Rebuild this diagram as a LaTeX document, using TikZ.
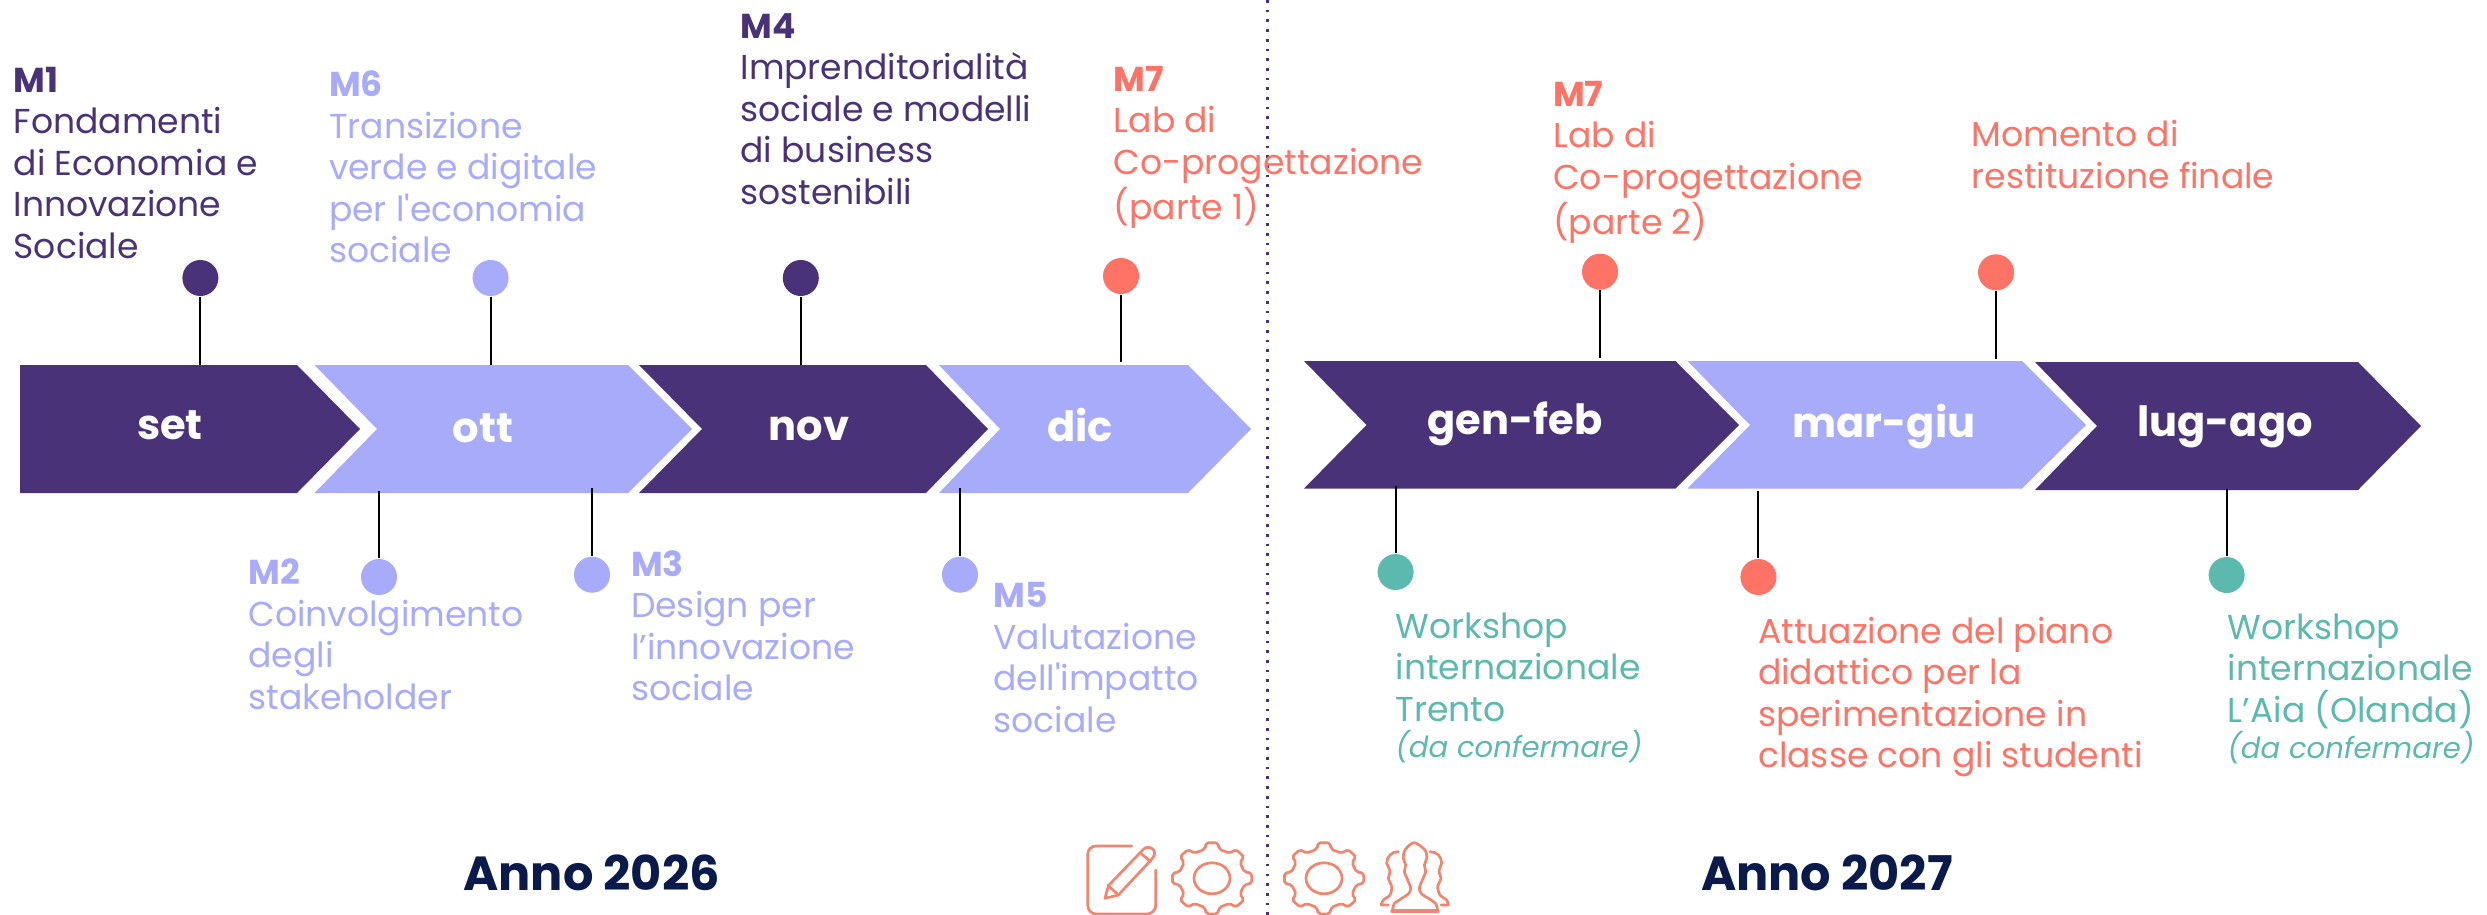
\documentclass[tikz,border=0pt]{standalone}
\usepackage{fontspec}
\setmainfont{Poppins}[Ligatures=TeXOff]
\definecolor{deeppurple}{HTML}{4A3278}
\definecolor{lavender}{HTML}{A8AAFA}
\definecolor{coral}{HTML}{FF7366}
\definecolor{teal2}{HTML}{5BB9AE}
\definecolor{salmon2}{HTML}{F08570}
\definecolor{navy2}{HTML}{0A1A4A}
\begin{document}
\begin{tikzpicture}[
    x=0.01cm, y=-0.01cm,
    dot/.style={circle, inner sep=0pt, minimum size=0.36cm},
    stem/.style={black, line width=0.02cm},
    note/.style={anchor=north west, inner sep=0pt, align=left, xshift=-0.01cm, yshift=0.015cm,
        font=\fontsize{9.83pt}{11.8pt}\selectfont},
    month/.style={anchor=base, inner sep=0pt, text=white,
        font=\fontsize{11.83pt}{13pt}\selectfont\bfseries},
    year/.style={anchor=base, inner sep=0pt, text=navy2,
        font=\fontsize{13.6pt}{15pt}\selectfont\bfseries},
    icon/.style={draw=salmon2, line width=0.027cm, line join=round, line cap=round},
    gearicon/.pic={
        \draw[icon, yscale=0.9, rounded corners=0.02cm] (-13:33) -- (-8:40) -- (8:40) -- (13:33)
            \foreach \a in {45,90,...,315} { -- (\a-13:33) -- (\a-8:40) -- (\a+8:40) -- (\a+13:33) } -- cycle;
        \draw[icon] (0,0) ellipse (18 and 15.5);
    }
]
    % Page size of the reference
    \useasboundingbox (0,0) rectangle (2487,915);

    % Divider between the two years
    \draw[deeppurple, line width=0.027cm, dash pattern=on 0.027cm off 0.07cm]
        (1267.7,0) -- (1267.7,915);

    % Bands of 2026
    \fill[deeppurple] (20,365) -- (297,365) -- (360,429) -- (297,493) -- (20,493) -- cycle;
    \fill[lavender] (314.5,365) -- (628,365) -- (692,429) -- (628,493) -- (314.5,493) -- (377,429) -- cycle;
    \fill[deeppurple] (639,365) -- (926,365) -- (988,429) -- (926,493) -- (639,493) -- (702,429) -- cycle;
    \fill[lavender] (939,365) -- (1188,365) -- (1251,429) -- (1188,493) -- (939,493) -- (1000,429) -- cycle;

    % Bands of 2027
    \fill[deeppurple] (1304,361) -- (1675.5,361) -- (1739,425) -- (1675.5,488.5) -- (1304,488.5) -- (1366.5,425) -- cycle;
    \fill[lavender] (1687.5,361) -- (2022,361) -- (2086,425) -- (2022,488.5) -- (1687.5,488.5) -- (1750,425) -- cycle;
    \fill[deeppurple] (2035,362) -- (2358,362) -- (2421,426) -- (2358,490) -- (2035,490) -- (2097,426) -- cycle;

    % Month names
    \node[month] (set) at (170,439) {set};
    \node[month] (ott) at (483,442) {ott};
    \node[month] (nov) at (809,440) {nov};
    \node[month] (dic) at (1080,441) {dic};
    \node[month] (genfeb) at (1515,434) {gen-feb};
    \node[month] (margiu) at (1884,437) {mar-giu};
    \node[month] (lugago) at (2225,436) {lug-ago};

    % Dots
    \node[dot, fill=deeppurple] (dotm1) at (200.4,278) {};
    \node[dot, fill=lavender] (dotm6) at (490.6,278) {};
    \node[dot, fill=deeppurple] (dotm4) at (800.8,278) {};
    \node[dot, fill=coral] (dotm7a) at (1121,276) {};
    \node[dot, fill=coral] (dotm7b) at (1600,271.7) {};
    \node[dot, fill=coral] (dotend) at (1996,272.3) {};
    \node[dot, fill=lavender] (dotm2) at (379,577) {};
    \node[dot, fill=lavender] (dotm3) at (592,574.7) {};
    \node[dot, fill=lavender] (dotm5) at (960,574.7) {};
    \node[dot, fill=teal2] (dottrento) at (1395.6,572) {};
    \node[dot, fill=coral] (dotplan) at (1758.4,577) {};
    \node[dot, fill=teal2] (dotaia) at (2226.6,575) {};

    % Ends of the stems on the bands
    \coordinate (endm1) at (200.4,365);
    \coordinate (endm6) at (490.6,365);
    \coordinate (endm4) at (800.8,365);
    \coordinate (endm7a) at (1121,362);
    \coordinate (endm7b) at (1600,358);
    \coordinate (endend) at (1996,359);
    \coordinate (endm2) at (379,490.7);
    \coordinate (endm3) at (592,488);
    \coordinate (endm5) at (960,488);
    \coordinate (endtrento) at (1395.6,486);
    \coordinate (endplan) at (1758.4,490.7);
    \coordinate (endaia) at (2226.6,489);

    % Stems
    \draw[stem] (dotm1) -- (endm1);
    \draw[stem] (dotm6) -- (endm6);
    \draw[stem] (dotm4) -- (endm4);
    \draw[stem] (dotm7a) -- (endm7a);
    \draw[stem] (dotm7b) -- (endm7b);
    \draw[stem] (dotend) -- (endend);
    \draw[stem] (dotm2) -- (endm2);
    \draw[stem] (dotm3) -- (endm3);
    \draw[stem] (dotm5) -- (endm5);
    \draw[stem] (dottrento) -- (endtrento);
    \draw[stem] (dotplan) -- (endplan);
    \draw[stem] (dotaia) -- (endaia);

    % Texts above the bands
    \node[note, text=deeppurple] (notem1) at (14,67.7) {\textbf{M1}\\Fondamenti\\di Economia e\\Innovazione\\Sociale};
    \node[note, text=lavender] (notem6) at (329.4,71.7) {\textbf{M6}\\Transizione\\verde e digitale\\per l'economia\\sociale};
    \node[note, text=deeppurple] (notem4) at (740.8,14.3) {\textbf{M4}\\Imprenditorialità\\sociale e modelli\\di business\\sostenibili};
    \node[note, text=coral] (notem7a) at (1114,66.7) {\textbf{M7}\\Lab di\\Co-progettazione\\(parte 1)};
    \node[note, text=coral] (notem7b) at (1553.5,81.7) {\textbf{M7}\\Lab di\\Co-progettazione\\(parte 2)};
    \node[note, text=coral] (noteend) at (1972,121) {Momento di\\restituzione finale};

    % Texts below the bands
    \node[note, text=lavender] (notem2) at (248.7,559.7) {\textbf{M2}\\Coinvolgimento\\degli\\stakeholder};
    \node[note, text=lavender] (notem3) at (631.4,551) {\textbf{M3}\\Design per\\l’innovazione\\sociale};
    \node[note, text=lavender] (notem5) at (993.8,583.3) {\textbf{M5}\\Valutazione\\dell'impatto\\sociale};
    \node[note, text=teal2] (notetrento) at (1396,613.7) {Workshop\\internazionale\\Trento\\[-0.055cm]{\fontsize{8.28pt}{10pt}\selectfont\itshape (da confermare)}};
    \node[note, text=coral] (noteplan) at (1758.4,617.7) {Attuazione del piano\\didattico per la\\sperimentazione in\\classe con gli studenti};
    \node[note, text=teal2] (noteaia) at (2228,614.3) {Workshop\\internazionale\\L’Aia (Olanda)\\[-0.055cm]{\fontsize{8.28pt}{10pt}\selectfont\itshape (da confermare)}};

    % Years
    \node[year] (y2026) at (591.6,890) {Anno 2026};
    \node[year] (y2027) at (1827,890) {Anno 2027};

    % Notepad and pencil
    \draw[icon] (1131.7,846) -- (1096,846) to[out=180, in=90] (1087.7,854) -- (1087.7,905)
        to[out=-90, in=180] (1096,914) -- (1147,914) to[out=0, in=-90] (1155.7,905) -- (1155.7,870);
    \begin{scope}[shift={(1040,820)}, scale=1/3]
        \draw[icon] (195,235) -- (205,197) -- (310,88) .. controls (325,72) and (360,90) .. (335,118)
            -- (235,225) -- cycle;
        \draw[icon] (205,197) -- (235,225);
        \draw[icon] (300,98) -- (332,125);
    \end{scope}

    % Gears
    \pic at (1212,878.3) {gearicon};
    \pic at (1324,878.3) {gearicon};

    % People
    \begin{scope}[shift={(1040,820)}, scale=1/3]
        \draw[icon] plot[smooth] coordinates {(1058,270) (1062,252) (1085,235) (1105,222) (1112,205)
            (1103,180) (1093,155) (1097,135) (1090,115) (1095,90) (1122,68) (1155,90) (1160,115)
            (1153,135) (1157,155) (1147,180) (1138,205) (1145,222) (1165,235) (1188,252) (1192,270)};
        \draw[icon, line width=0.04cm] (1057,274) -- (1193,274);
        \draw[icon] (1075,95) .. controls (1055,95) and (1040,110) .. (1040,130);
        \draw[icon] plot[smooth] coordinates {(1040,130) (1050,155) (1045,175) (1055,200) (1050,225) (1030,240) (1023,255)} -- (1045,255);
        \draw[icon] (1170,95) .. controls (1190,95) and (1205,110) .. (1205,130);
        \draw[icon] plot[smooth] coordinates {(1205,130) (1197,155) (1203,175) (1193,200) (1200,225) (1220,240) (1225,255)} -- (1203,255);
    \end{scope}
\end{tikzpicture}
\end{document}
